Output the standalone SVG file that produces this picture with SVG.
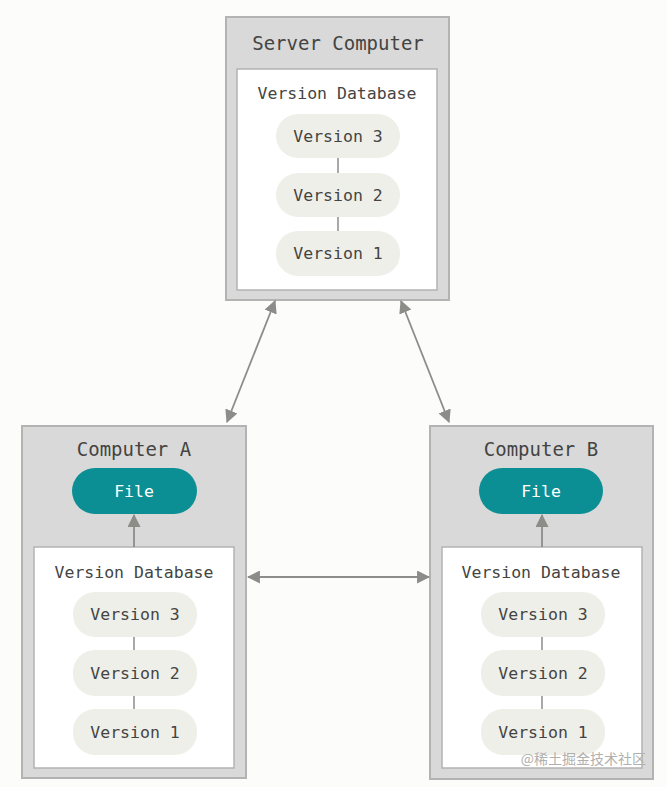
<svg xmlns="http://www.w3.org/2000/svg" width="667" height="787" viewBox="0 0 667 787">
<style>
.outer{fill:#d9d9d9;stroke:#b3b3b3;stroke-width:2}
.inner{fill:#ffffff;stroke:#b3b3b3;stroke-width:1.5}
.pill{fill:#efefe9}
.file{fill:#0b8f95}
.t{font-family:"DejaVu Sans Mono","Liberation Mono",monospace;fill:#444442;text-anchor:middle}
.title{font-size:19px}
.db{font-size:16.5px}
.v{font-size:16.5px}
.ft{font-size:16.5px;fill:#ffffff}
.link{stroke:#8c8c88;stroke-width:1.5;fill:none}
.conn{stroke:#8c8c88;stroke-width:1.8;fill:none}
</style>
<defs>
<marker id="ah2" viewBox="0 0 12 12" refX="11" refY="6" markerWidth="13" markerHeight="13" markerUnits="userSpaceOnUse" orient="auto-start-reverse">
<path d="M0,0 L12,6 L0,12 Z" fill="#8c8c88"/>
</marker>
</defs>
<rect width="667" height="787" fill="#fcfcfa"/>

<g id="server">
<rect class="outer" x="226" y="17" width="223" height="283"/>
<rect class="inner" x="237" y="69" width="200" height="221"/>
<text class="t title" x="338" y="50">Server Computer</text>
<text class="t db" x="337" y="99">Version Database</text>
<line class="link" x1="338" y1="158" x2="338" y2="173"/>
<line class="link" x1="338" y1="217" x2="338" y2="231"/>
<rect class="pill" x="276" y="114" width="124" height="44" rx="22"/>
<text class="t v" x="338" y="142">Version 3</text>
<rect class="pill" x="276" y="173" width="124" height="44" rx="22"/>
<text class="t v" x="338" y="201">Version 2</text>
<rect class="pill" x="276" y="231" width="124" height="45" rx="22"/>
<text class="t v" x="338" y="259">Version 1</text>
</g>

<g id="computerA">
<rect class="outer" x="22" y="426" width="224" height="352"/>
<rect class="inner" x="34" y="547" width="200" height="221"/>
<text class="t title" x="134" y="456">Computer A</text>
<rect class="file" x="72" y="468" width="125" height="46" rx="23"/>
<text class="t ft" x="134" y="497">File</text>
<text class="t db" x="134" y="578">Version Database</text>
<line class="link" x1="134" y1="637" x2="134" y2="650"/>
<line class="link" x1="134" y1="696" x2="134" y2="709"/>
<rect class="pill" x="73" y="592" width="124" height="45" rx="22"/>
<text class="t v" x="135" y="620">Version 3</text>
<rect class="pill" x="73" y="650" width="124" height="46" rx="22"/>
<text class="t v" x="135" y="679">Version 2</text>
<rect class="pill" x="73" y="709" width="124" height="46" rx="22"/>
<text class="t v" x="135" y="738">Version 1</text>
</g>

<g id="computerB">
<rect class="outer" x="430" y="426" width="223" height="353"/>
<rect class="inner" x="442" y="547" width="200" height="221"/>
<text class="t title" x="541" y="456">Computer B</text>
<rect class="file" x="479" y="468" width="124" height="46" rx="23"/>
<text class="t ft" x="541" y="497">File</text>
<text class="t db" x="541" y="578">Version Database</text>
<line class="link" x1="542" y1="637" x2="542" y2="650"/>
<line class="link" x1="542" y1="696" x2="542" y2="709"/>
<rect class="pill" x="481" y="592" width="124" height="45" rx="22"/>
<text class="t v" x="543" y="620">Version 3</text>
<rect class="pill" x="481" y="650" width="124" height="46" rx="22"/>
<text class="t v" x="543" y="679">Version 2</text>
<rect class="pill" x="481" y="709" width="124" height="46" rx="22"/>
<text class="t v" x="543" y="738">Version 1</text>
</g>

<g id="connectors">
<line class="conn" x1="275" y1="301" x2="227" y2="422" marker-start="url(#ah2)" marker-end="url(#ah2)"/>
<line class="conn" x1="401" y1="301" x2="449" y2="422" marker-start="url(#ah2)" marker-end="url(#ah2)"/>
<line class="conn" x1="248" y1="577" x2="429" y2="577" marker-start="url(#ah2)" marker-end="url(#ah2)"/>
<line class="conn" x1="134" y1="547" x2="134" y2="515" marker-end="url(#ah2)"/>
<line class="conn" x1="542" y1="547" x2="542" y2="515" marker-end="url(#ah2)"/>
</g>

<text x="646" y="764" font-family="'Noto Sans CJK SC',sans-serif" font-size="14" fill="#b0b0ae" text-anchor="end">@稀土掘金技术社区</text>
</svg>
